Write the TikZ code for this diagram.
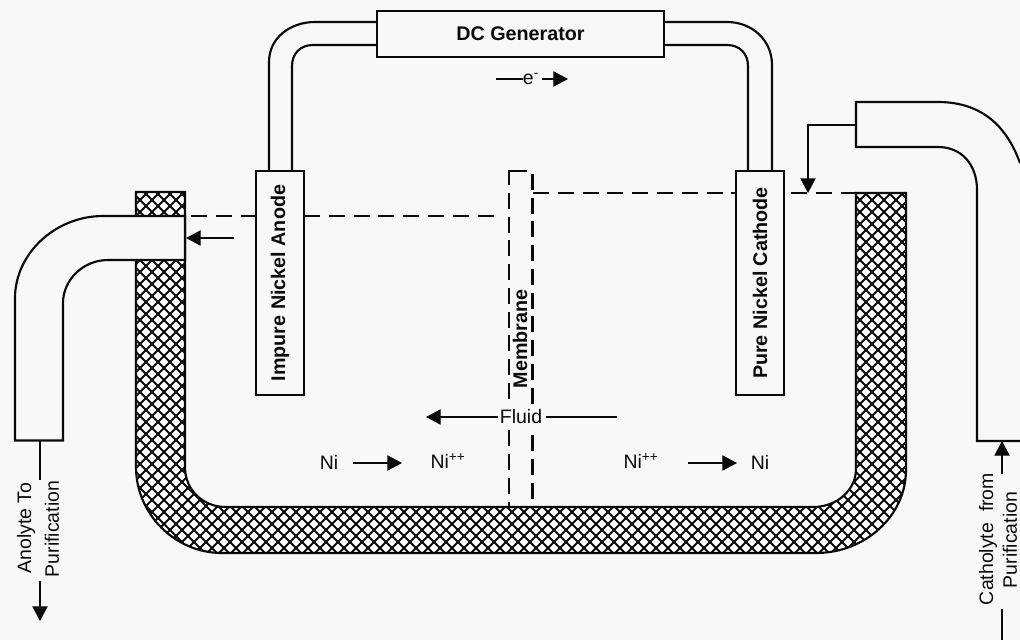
\documentclass[tikz,border=0pt]{standalone}
\usepackage{fontspec}
\setmainfont{Liberation Sans}
\usetikzlibrary{arrows.meta}
\definecolor{paper}{HTML}{F8F8F8}
\definecolor{ink}{HTML}{0A0A0A}
\tikzset{
  pipeline/.style={draw=ink,line width=1.6pt,line join=miter},
  dashline/.style={draw=ink,line width=1.6pt,dash pattern=on 12pt off 6.6pt},
  memdash/.style={draw=ink,line width=1.6pt,dash pattern=on 12pt off 5.8pt},
  flow/.style={draw=ink,line width=0.8pt},
  flowtip/.style={flow,-{Triangle[length=11pt,width=11.5pt]}},
  boxnode/.style={draw=ink,line width=1.6pt,fill=paper,inner sep=0pt,text=ink,font=\fontsize{14.8}{17}\selectfont\bfseries},
  lbl/.style={inner sep=0pt,text=ink,font=\fontsize{14.6}{17}\selectfont},
  lblb/.style={inner sep=0pt,text=ink,font=\fontsize{14.8}{17}\selectfont\bfseries}
}
\begin{document}
\begin{tikzpicture}[x=0.75pt,y=-0.75pt]
\useasboundingbox (0,0) rectangle (1020,640);
\clip (0,0) rectangle (1020,640);
\fill[paper] (0,0) rectangle (1020,640);

% tank
\def\tankpath{(136,192) -- (136,467) .. controls (136,514) and (175,553) .. (222,553) -- (816,553) .. controls (865,553) and (906,516) .. (906,470) -- (906,193) -- (856,193) -- (856,469) .. controls (856,490) and (837,507) .. (813,507) -- (226,507) .. controls (203,507) and (185,490) .. (185,467) -- (185,192) -- cycle}
\begin{scope}
  \clip \tankpath;
  \fill[white] (100,150) rectangle (950,600);
  \foreach \c in {-600,-588,...,1000} {
    \draw[ink,line width=1.5pt] (\c,0) -- (\c+640,640);
    \draw[ink,line width=1.5pt] (\c+640,0) -- (\c,640);
  }
\end{scope}
\draw[pipeline] \tankpath;

% wires
\draw[pipeline] (269,171) -- (269,62) .. controls (269,38) and (290,22) .. (315,22) -- (377,22);
\draw[pipeline] (292,171) -- (292,66) .. controls (292,54) and (300,45) .. (313,45) -- (377,45);
\draw[pipeline] (772,171) -- (772,65) .. controls (772,40) and (752,22) .. (727,22) -- (664,22);
\draw[pipeline] (748,171) -- (748,66) .. controls (748,54) and (740,45) .. (727,45) -- (664,45);

% named points
\coordinate (dashA) at (191,216);
\coordinate (dashB) at (256,216);
\coordinate (dashC) at (304,216);
\coordinate (dashD) at (497,216);
\coordinate (dashE) at (533,193);
\coordinate (dashF) at (736,193);
\coordinate (dashG) at (791,193);
\coordinate (dashH) at (856,193);
\coordinate (memTE) at (527,171);
\coordinate (memTL) at (509,171);
\coordinate (memTS) at (509,185);
\coordinate (memLS) at (509,193);
\coordinate (memBL) at (509,507);
\coordinate (memRS) at (532.5,174);
\coordinate (memBR) at (532.5,507);

% dashed levels and membrane
\draw[dashline] (dashA) -- (dashB);
\draw[dashline] (dashC) -- (dashD);
\draw[dashline] (dashE) -- (dashF);
\draw[dashline] (dashG) -- (dashH);
\draw[pipeline] (memTE) -- (memTL) -- (memTS);
\draw[memdash] (memLS) -- (memBL);
\draw[memdash] (memRS) -- (memBR);

% boxes
\node[boxnode,minimum width=287*0.75pt,minimum height=46*0.75pt] (gen) at (520.5,34) {DC Generator};
\node[boxnode,rotate=90,minimum width=224*0.75pt,minimum height=48*0.75pt] (anode) at (280,283) {Impure Nickel Anode};
\node[boxnode,rotate=90,minimum width=224*0.75pt,minimum height=48*0.75pt] (cathode) at (760,283) {Pure Nickel Cathode};

% left pipe
\draw[pipeline,fill=paper] (185,216) -- (103,216) .. controls (55,216) and (15,254) .. (15,298) -- (15,440.5) -- (63,440.5) -- (63,303) .. controls (63,280) and (83,260) .. (108,260) -- (185,260) -- cycle;
% right pipe
\fill[paper] (856,102) -- (938,102) .. controls (985,102) and (1008,130) .. (1020,163) -- (1020,441) -- (977,441) -- (977,190) .. controls (977,165) and (962,147) .. (938,147) -- (856,147) -- cycle;
\draw[pipeline] (1020,163) .. controls (1008,130) and (985,102) .. (938,102) -- (856,102) -- (856,147) -- (938,147) .. controls (962,147) and (977,165) .. (977,190) -- (977,441) -- (1020,441);

% flows at pipes
\coordinate (inL) at (234,238);
\coordinate (endL) at (186,238);
\draw[flowtip] (inL) -- (endL);
\coordinate (srcR) at (856,125);
\coordinate (bendR) at (808,125);
\coordinate (tipR) at (808,193);
\draw[flowtip] (srcR) -- (bendR) -- (tipR);

% membrane and fluid
\node[lblb,rotate=90] (mem) at (520,339) {Membrane};
\node[lbl,fill=paper,inner xsep=1pt,inner ysep=2pt] (fluid) at (521,417) {Fluid};
\coordinate (fluidL) at (426,417);
\coordinate (fluidR) at (617,417);
\draw[flowtip] (fluid.west) -- (fluidL);
\draw[flow] (546,417) -- (fluidR);

% electrons
\node[lbl] (elec) at (531,79) {e\textsuperscript{-}};
\coordinate (eL) at (496,79);
\coordinate (eR) at (568,79);
\draw[flow] (eL) -- (elec.west);
\draw[flowtip] (elec.east) ++(3,0) coordinate (eM) -- (eR);

% reactions
\node[lbl] (ni1) at (329,462) {Ni};
\node[lbl] (ni2) at (448,461) {Ni\textsuperscript{++}};
\node[lbl] (ni3) at (641,461) {Ni\textsuperscript{++}};
\node[lbl] (ni4) at (760,462) {Ni};
\coordinate (r1a) at (353,463);
\coordinate (r1b) at (402,463);
\coordinate (r2a) at (688,463);
\coordinate (r2b) at (737,463);
\draw[flowtip] (r1a) -- (r1b);
\draw[flowtip] (r2a) -- (r2b);

% anolyte
\node[lbl,rotate=90] (an1) at (26,528) {Anolyte To};
\node[lbl,rotate=90] (an2) at (52,529) {Purification};
\coordinate (a1) at (40,441);
\coordinate (a2) at (40,480);
\coordinate (a3) at (40,581);
\coordinate (a4) at (40,621);
\draw[flow] (a1) -- (a2);
\draw[flowtip] (a3) -- (a4);

% catholyte
\node[lbl,rotate=90] (ca1) at (988,539) {Catholyte\ \ from};
\node[lbl,rotate=90] (ca2) at (1010,540) {Purification};
\coordinate (c1) at (1002,474);
\coordinate (c2) at (1002,441);
\coordinate (c3) at (1002,609);
\coordinate (c4) at (1002,640);
\draw[flowtip] (c1) -- (c2);
\draw[flow] (c3) -- (c4);
\end{tikzpicture}
\end{document}
